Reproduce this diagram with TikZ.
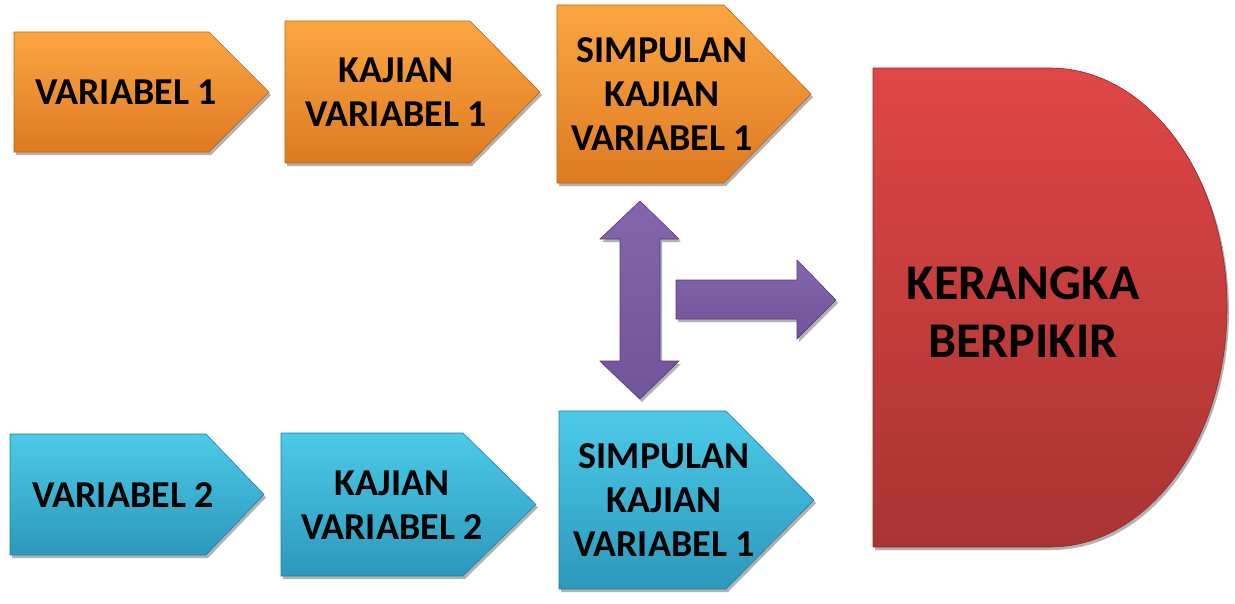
\documentclass[tikz,border=0pt]{standalone}
\usepackage{fontspec}
\setmainfont{Carlito}
\usetikzlibrary{shadows}
\definecolor{orT}{HTML}{FBA642}
\definecolor{orB}{HTML}{DE7A22}
\definecolor{orD}{HTML}{B86418}
\definecolor{blT}{HTML}{4CCAE8}
\definecolor{blB}{HTML}{2C98BC}
\definecolor{blD}{HTML}{237E9E}
\definecolor{rdT}{HTML}{E04646}
\definecolor{rdB}{HTML}{A93333}
\definecolor{rdD}{HTML}{8E2A2A}
\definecolor{puT}{HTML}{8366AC}
\definecolor{puB}{HTML}{73539B}
\definecolor{puD}{HTML}{54397A}
\tikzset{
  shad/.style={drop shadow={shadow xshift=2pt, shadow yshift=-3pt, opacity=.3, fill=black}},
  orangebox/.style={shad, top color=orT, bottom color=orB, draw=orD, line width=0.6pt, line join=miter},
  bluebox/.style={shad, top color=blT, bottom color=blB, draw=blD, line width=0.6pt},
  redbox/.style={shad, top color=rdT, bottom color=rdB, draw=rdD, line width=0.6pt},
  purplearrow/.style={shad, top color=puT, bottom color=puB, draw=puD, line width=0.6pt},
  lbl/.style={font=\bfseries\fontsize{38}{44}\selectfont, align=center, text=black, inner sep=0pt},
  biglbl/.style={font=\bfseries\fontsize{50}{58}\selectfont, align=center, text=black, inner sep=0pt},
}
\newcommand{\chevronpath}[6]{\path[#6] (#1,#2) -- (#3,#2) -- (#4,{(#2+#5)/2}) -- (#3,#5) -- (#1,#5) -- cycle;}
\begin{document}
\begin{tikzpicture}[x=1pt,y=-1pt]
\useasboundingbox (0,0) rectangle (1235,603);
% top row
\chevronpath{14}{32}{209}{269}{152}{orangebox}
\chevronpath{285}{21}{470}{540}{163}{orangebox}
\chevronpath{557}{5}{724}{811}{183}{orangebox}
% bottom row
\chevronpath{10}{434}{206}{264}{555}{bluebox}
\chevronpath{281}{433}{463}{536}{576}{bluebox}
\chevronpath{559}{411}{726}{814}{589}{bluebox}
% D shape
\path[redbox] (873,68) -- (1050,68) arc[start angle=90, end angle=-90, x radius=177pt, y radius=239.5pt] -- (873,547) -- cycle;
% purple arrows
\path[purplearrow] (640,201) -- (679,239) -- (660,239) -- (660,361) -- (679,361) -- (640,399) -- (600,361) -- (620,361) -- (620,239) -- (600,239) -- cycle;
\path[purplearrow] (676,280) -- (797,280) -- (797,260) -- (836,300) -- (797,339) -- (797,319) -- (676,319) -- cycle;
% labels
\node[lbl] (t1) at (126,92) {VARIABEL 1};
\node[lbl] (t2) at (396,92) {KAJIAN\\VARIABEL 1};
\node[lbl] (t3) at (662,94) {SIMPULAN\\KAJIAN\\VARIABEL 1};
\node[lbl] (b1) at (123,495) {VARIABEL 2};
\node[lbl] (b2) at (392,505) {KAJIAN\\VARIABEL 2};
\node[lbl] (b3) at (664,500) {SIMPULAN\\KAJIAN\\VARIABEL 1};
\node[biglbl] (kb) at (1023,312) {KERANGKA\\BERPIKIR};
\end{tikzpicture}
\end{document}
